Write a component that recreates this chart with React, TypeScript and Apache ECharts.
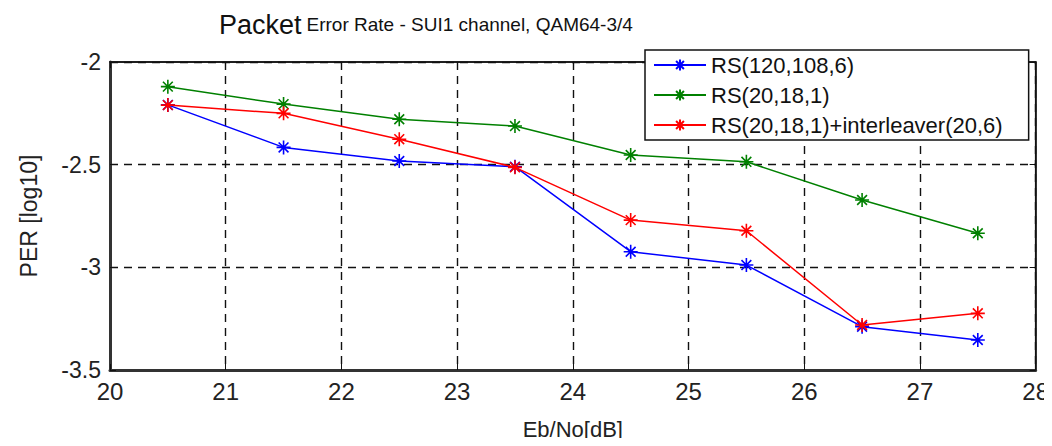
import React, { useEffect, useRef } from "react";
import * as echarts from "echarts";

const ebNo = [20.5, 21.5, 22.5, 23.5, 24.5, 25.5, 26.5, 27.5];
const rs120 = [-2.209, -2.416, -2.482, -2.51, -2.924, -2.989, -3.289, -3.354];
const rs20 = [-2.12, -2.205, -2.279, -2.312, -2.453, -2.486, -2.672, -2.834];
const rs20il = [-2.21, -2.25, -2.376, -2.513, -2.77, -2.822, -3.281, -3.224];
const seriesNames = ["RS(120,108,6)", "RS(20,18,1)", "RS(20,18,1)+interleaver(20,6)"];
const seriesColors = ["#0000ff", "#008000", "#ff0000"];

const FONT = "'Liberation Sans', Arial, sans-serif";
const STAR = "path://M10,0L10,20M0,10L20,10M3,3L17,17M3,17L17,3";

export default function App() {
  const ref = useRef<HTMLDivElement>(null);
  useEffect(() => {
    if (!ref.current) return;
    const chart = echarts.init(ref.current, null, { renderer: "svg" });
    const datasets = [rs120, rs20, rs20il];
    const series = datasets.map((vals, i) => ({
      name: seriesNames[i],
      type: "line",
      data: vals.map((v, k) => [ebNo[k], v]),
      symbol: STAR,
      symbolSize: 14,
      showSymbol: true,
      lineStyle: { color: seriesColors[i], width: 1.5 },
      itemStyle: { color: seriesColors[i], borderColor: seriesColors[i], borderWidth: 1.6 },
      z: 3 + i,
    }));
    const gridLine = { show: true, lineStyle: { color: "#111", type: [8, 6], width: 1.4 } };
    chart.setOption({
      animation: false,
      backgroundColor: "#ffffff",
      title: {
        text: "{a|Packet} {b|Error Rate - SUI1 channel, QAM64-3/4}",
        left: 214,
        top: 6,
        textStyle: {
          fontWeight: "normal",
          rich: {
            a: { fontFamily: FONT, fontSize: 27, fontWeight: "normal", color: "#111" },
            b: { fontFamily: FONT, fontSize: 19, fontWeight: "normal", color: "#111" },
          },
        },
      },
      legend: {
        orient: "vertical",
        left: 645,
        top: 50,
        padding: [4, 26, 4, 8],
        itemGap: 8,
        itemWidth: 52,
        itemHeight: 14,
        backgroundColor: "#ffffff",
        borderColor: "#111",
        borderWidth: 1.5,
        borderRadius: 0,
        textStyle: { fontFamily: FONT, fontSize: 22, color: "#111", lineHeight: 22 },
        data: seriesNames,
      },
      grid: {
        left: 110,
        right: 15,
        top: 62,
        bottom: 76,
        show: true,
        borderColor: "#111",
        borderWidth: 1.5,
      },
      xAxis: [
        {
          type: "value",
          min: 20,
          max: 28,
          interval: 1,
          name: "Eb/No[dB]",
          nameLocation: "middle",
          nameGap: 48,
          nameTextStyle: { fontFamily: FONT, fontSize: 22, color: "#222" },
          axisLine: { show: true, onZero: false, lineStyle: { color: "#333", width: 3 } },
          axisTick: { show: true, inside: true, length: 6, lineStyle: { color: "#111" } },
          axisLabel: { fontFamily: FONT, fontSize: 24, color: "#222", margin: 9 },
          splitLine: gridLine,
        },
        {
          type: "value",
          position: "top",
          min: 20,
          max: 28,
          interval: 1,
          axisLine: { show: true, onZero: false, lineStyle: { color: "#111", width: 1.5 } },
          axisTick: { show: true, inside: true, length: 6, lineStyle: { color: "#111" } },
          axisLabel: { show: false },
          splitLine: { show: false },
        },
      ],
      yAxis: [
        {
          type: "value",
          min: -3.5,
          max: -2,
          interval: 0.5,
          name: "PER [log10]",
          nameLocation: "middle",
          nameGap: 70,
          nameTextStyle: { fontFamily: FONT, fontSize: 23, color: "#222" },
          axisLine: { show: true, onZero: false, lineStyle: { color: "#333", width: 3 } },
          axisTick: { show: true, inside: true, length: 6, lineStyle: { color: "#111" } },
          axisLabel: { fontFamily: FONT, fontSize: 23, color: "#222", margin: 9 },
          splitLine: gridLine,
        },
        {
          type: "value",
          position: "right",
          min: -3.5,
          max: -2,
          interval: 0.5,
          axisLine: { show: true, onZero: false, lineStyle: { color: "#111", width: 1.5 } },
          axisTick: { show: true, inside: true, length: 6, lineStyle: { color: "#111" } },
          axisLabel: { show: false },
          splitLine: { show: false },
        },
      ],
      series,
    });
    return () => chart.dispose();
  }, []);
  return <div ref={ref} style={{ width: 1052, height: 446, margin: -8 }} />;
}
